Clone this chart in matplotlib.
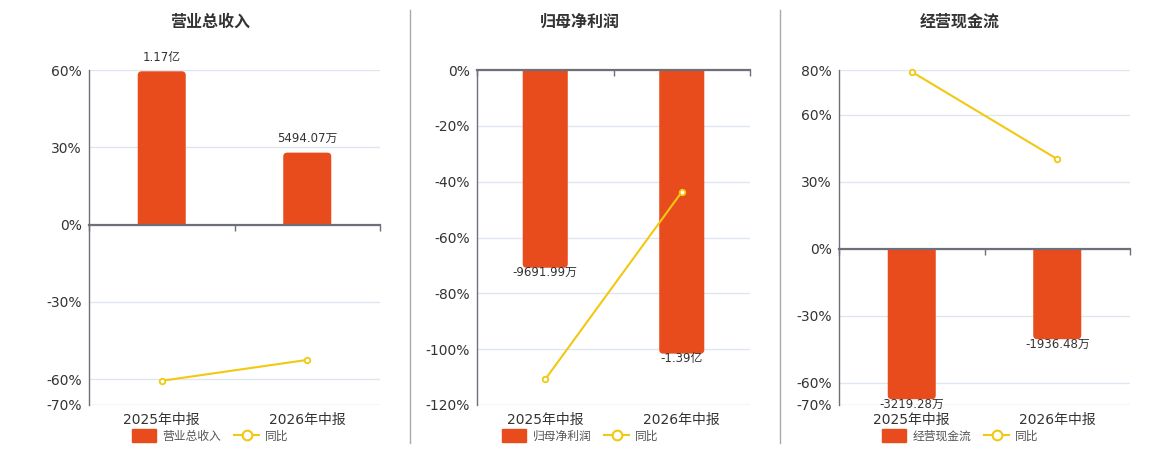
import matplotlib
matplotlib.use("Agg")
import matplotlib.pyplot as plt
from matplotlib.patches import Patch, FancyBboxPatch, Rectangle
from matplotlib.lines import Line2D
from matplotlib.ticker import FuncFormatter

plt.rcParams['font.family'] = ['DejaVu Sans', 'Noto Sans CJK SC']

# 数据
categories = ['2025年中报', '2026年中报']
titles = ['营业总收入', '归母净利润', '经营现金流']
bar_values = [[1.17, 0.549407], [-0.969199, -1.39], [-0.321928, -0.193648]]  # 亿
bar_labels = [['1.17亿', '5494.07万'], ['-9691.99万', '-1.39亿'], ['-3219.28万', '-1936.48万']]
yoy = [[-60.6, -52.5], [-110.8, -43.7], [79.2, 40.1]]  # %
yticks = [[60, 30, 0, -30, -60, -70],
          [0, -20, -40, -60, -80, -100, -120],
          [80, 60, 30, 0, -30, -60, -70]]
ylims = [(-70, 60), (-120, 0), (-70, 80)]
# 柱子轴比例：每1%对应多少亿
bar_scale = [1.17 / 59.5, 1.39 / 101.6, 0.321928 / 67.4]

BAR = '#e84c1c'
LINE = '#f2c811'
AXIS = '#6e7079'
GRID = '#e0e6f1'
TXT = '#333333'

fig = plt.figure(figsize=(11.6, 4.5), dpi=100)
W, H = 1160, 450
boxes = [(89, 380), (477, 750), (839, 1130)]
centers = [210, 580, 960]
top, bottom = 70, 405
bar_w = 0.33
radius_px = 4

x = list(range(len(categories)))

for i in range(3):
    l, r = boxes[i]
    rect = [l / W, (H - bottom) / H, (r - l) / W, (bottom - top) / H]

    # 网格 + 百分比轴 + 类目标签
    ax = fig.add_axes(rect, label=f'base{i}')
    ax.set_xlim(-0.5, 1.5)
    ax.set_ylim(*ylims[i])
    ax.set_yticks(yticks[i])
    ax.yaxis.set_major_formatter(FuncFormatter(lambda v, p: f'{v:.0f}%'))
    ax.grid(axis='y', color=GRID, lw=1)
    ax.set_axisbelow(True)
    for s in ['top', 'right', 'bottom']:
        ax.spines[s].set_visible(False)
    ax.spines['left'].set_color(AXIS)
    ax.spines['left'].set_linewidth(1)
    ax.set_xticks(x)
    ax.set_xticklabels(categories, fontsize=10, color=TXT)
    ax.tick_params(axis='x', length=0, pad=6)
    ax.tick_params(axis='y', length=0, labelsize=10, labelcolor=TXT, pad=5)
    ax.axhline(ylims[i][0], color=GRID, lw=1, zorder=0)

    # 柱子（末端圆角）
    ax2 = fig.add_axes(rect, label=f'bar{i}')
    ax2.set_facecolor('none')
    k = bar_scale[i]
    ax2.set_ylim(ylims[i][0] * k, ylims[i][1] * k)
    ax2.set_xlim(-0.5, 1.5)
    ax2.axis('off')
    bars = ax2.bar(x, bar_values[i], width=bar_w, color=BAR, alpha=0)
    x_per_px = 2.0 / (r - l)
    y_per_px = (ylims[i][1] - ylims[i][0]) * k / (bottom - top)
    rs = radius_px * x_per_px
    ext = 3 * radius_px * y_per_px
    span = (ylims[i][1] - ylims[i][0]) * k
    for b, v, lab in zip(bars, bar_values[i], bar_labels[i]):
        x0, w = b.get_x(), b.get_width()
        if v >= 0:
            y_lo, hh = -ext, v + ext
            clip = Rectangle((x0 - w, 0), 3 * w, span, transform=ax2.transData)
        else:
            y_lo, hh = v, -v + ext
            clip = Rectangle((x0 - w, -span), 3 * w, span, transform=ax2.transData)
        p = FancyBboxPatch((x0, y_lo), w, hh,
                           boxstyle=f'round,pad=0,rounding_size={rs}',
                           mutation_aspect=y_per_px / x_per_px,
                           facecolor=BAR, edgecolor='none')
        ax2.add_patch(p)
        p.set_clip_path(clip)
        cx = x0 + w / 2
        if v >= 0:
            ax2.annotate(lab, (cx, v), xytext=(0, 10), textcoords='offset points',
                         ha='center', va='center', fontsize=8.5, color=TXT)
        else:
            ax2.annotate(lab, (cx, v), xytext=(0, -3.5), textcoords='offset points',
                         ha='center', va='center', fontsize=8.5, color=TXT)

    # 同比折线 + 零线
    ax3 = fig.add_axes(rect, label=f'line{i}')
    ax3.set_facecolor('none')
    ax3.set_ylim(*ylims[i])
    ax3.set_xlim(-0.5, 1.5)
    for s in ['top', 'right', 'left']:
        ax3.spines[s].set_visible(False)
    ax3.spines['bottom'].set_position(('data', 0))
    ax3.spines['bottom'].set_color(AXIS)
    ax3.spines['bottom'].set_linewidth(1.6)
    ax3.set_yticks([])
    ax3.set_xticks([-0.5, 0.5, 1.5])
    ax3.set_xticklabels([])
    ax3.tick_params(axis='x', length=4, width=1, color=AXIS, direction='out')
    ax3.plot(x, yoy[i], color=LINE, lw=1.5, marker='o', markersize=4,
             markerfacecolor='white', markeredgecolor=LINE, markeredgewidth=1.3,
             clip_on=False)

    fig.text(centers[i] / W, 1 - 22 / H, titles[i], ha='center', va='center',
             fontsize=11.5, fontweight='bold', color=TXT)

    handles = [Patch(facecolor=BAR, edgecolor=BAR, label=titles[i]),
               Line2D([], [], color=LINE, lw=1.5, marker='o', markersize=7,
                      markerfacecolor='white', markeredgewidth=1.5, label='同比')]
    fig.legend(handles=handles, loc='center', ncol=2,
               bbox_to_anchor=(centers[i] / W, 14 / H), frameon=False,
               fontsize=8.5, labelcolor='#555555', handlelength=2.1,
               handleheight=1.2, handletextpad=0.5, columnspacing=1.1,
               borderpad=0, borderaxespad=0)

for xd in [410, 780]:
    fig.add_artist(Line2D([xd / W, xd / W], [1 - 10 / H, 1 - 443 / H],
                          color='#aaaaaa', lw=1))

fig.savefig('out.png', dpi=100)
